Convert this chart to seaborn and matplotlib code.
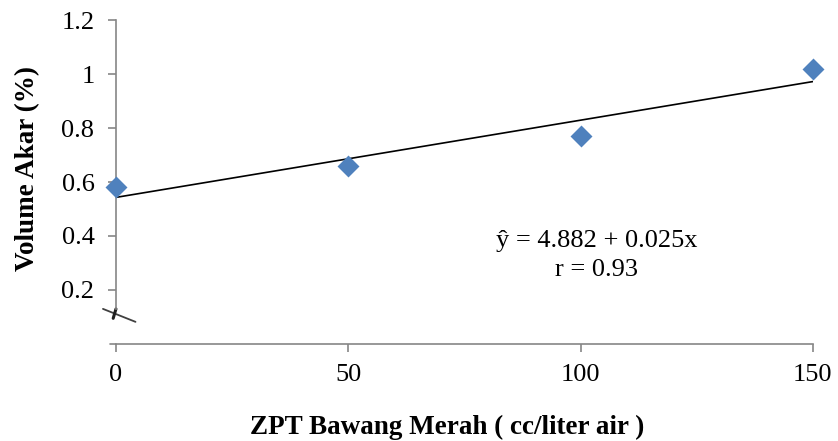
import matplotlib
matplotlib.use("Agg")
import matplotlib.pyplot as plt
import seaborn as sns
import pandas as pd
import numpy as np

# data
zpt = [0, 50, 100, 150]
volume_akar = [0.58, 0.66, 0.77, 1.02]
x_ticks = [0, 50, 100, 150]
y_ticks = [0.2, 0.4, 0.6, 0.8, 1.0, 1.2]
y_tick_labels = ["0.2", "0.4", "0.6", "0.8", "1", "1.2"]
equation = "ŷ = 4.882 + 0.025x"
r_text = "r = 0.93"

sns.set_theme(style="white")
plt.rcParams['font.family'] = ['Liberation Serif', 'DejaVu Serif']
plt.rcParams['text.color'] = 'black'
plt.rcParams['axes.labelcolor'] = 'black'

df = pd.DataFrame({"zpt": zpt, "vol": volume_akar})

fig = plt.figure(figsize=(8.38, 4.41), dpi=100)
ax = fig.add_axes([0.1384, 0.22, 0.970 - 0.1384, 0.9546 - 0.22])

sns.regplot(data=df, x="zpt", y="vol", ax=ax, ci=None, truncate=True,
            marker="D",
            scatter_kws=dict(s=125, color="#4F81BD", linewidths=0, zorder=3, clip_on=False, alpha=1),
            line_kws=dict(color="black", lw=1.2, zorder=2))

ax.set_xlim(0, 150)
ax.set_ylim(0, 1.2)
ax.set_xticks(x_ticks)
ax.set_xticklabels([str(v) for v in x_ticks])
ax.set_yticks(y_ticks)
ax.set_yticklabels(y_tick_labels)

for s in ["top", "right"]:
    ax.spines[s].set_visible(False)
gray = "#868686"
ax.spines["left"].set_color(gray)
ax.spines["bottom"].set_color(gray)
ax.spines["left"].set_linewidth(1.2)
ax.spines["bottom"].set_linewidth(1.2)
ax.spines["left"].set_bounds(0.13, 1.2)
ax.tick_params(axis="both", direction="out", length=5.5, width=1.2, color=gray,
               labelsize=19, labelcolor="black", left=True, bottom=True)
ax.tick_params(axis="x", pad=9)
ax.tick_params(axis="y", pad=10)

# axis break marks
ax.plot([-2.8, 4.2], [0.13, 0.082], color="#404040", lw=1.3, clip_on=False)
ax.plot([0, -0.6], [0.13, 0.095], color="#202020", lw=2.2, clip_on=False)
# zero tick on y (left) at bottom
ax.plot([-1.3, 0], [0, 0], color=gray, lw=1.2, clip_on=False)

ax.set_xlabel("ZPT Bawang Merah ( cc/liter air )", fontsize=19.5, fontweight="bold", labelpad=21)
ax.set_ylabel("Volume Akar (%)", fontsize=19.5, fontweight="bold", labelpad=15)
ax.xaxis.label.set_x(0.475)
ax.yaxis.label.set_y(0.543)

ax.text(103.5, 0.38, equation, fontsize=19, ha="center", va="center")
ax.text(103.5, 0.275, r_text, fontsize=19, ha="center", va="center")

fig.savefig("out.png", dpi=100)
